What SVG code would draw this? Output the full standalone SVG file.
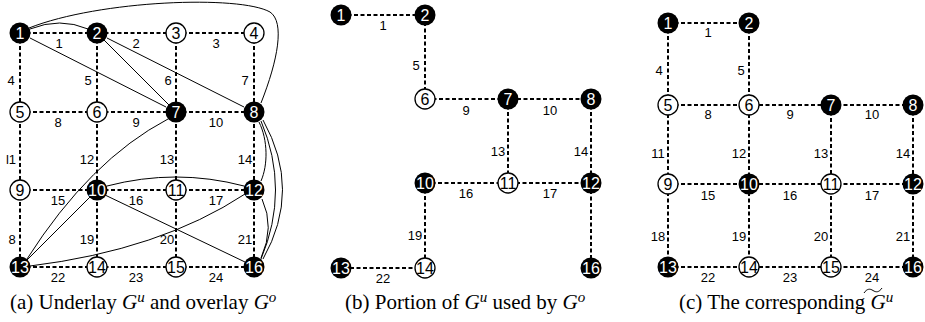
<svg xmlns="http://www.w3.org/2000/svg" width="925" height="322" viewBox="0 0 925 322">
<style>
.d{stroke:#000;stroke-width:2;stroke-dasharray:4 2.5;fill:none}
.o{stroke:#000;stroke-width:1;fill:none}
.b circle{fill:#000}
.w circle{fill:#fff;stroke:#000;stroke-width:1.3}
.b text,.w text{font-family:"Liberation Sans",Arial,sans-serif;font-size:16px;text-anchor:middle}
.b text{fill:#fff}
.w text{fill:#000}
.l{font-family:"Liberation Sans",Arial,sans-serif;font-size:13px;text-anchor:middle;fill:#000}
.cap{font-family:"Liberation Serif","Times New Roman",serif;font-size:21px;fill:#000}
.cap .i{font-style:italic}
</style>
<rect width="925" height="322" fill="#fff"/>

<!-- ===== Panel (a) ===== -->
<g id="a-edges">
<path class="d" d="M20,33H254M20,112H254M20,190H254M20,267H254M20,33V267M97,33V267M176,33V267M254,33V267"/>
<path class="o" d="M30,29 Q60,17 88,29"/>
<path class="o" d="M29,28 C100,0 240,-5 270,12 C285,22 278,60 261,103"/>
<path class="o" d="M30,38 L166,107"/>
<path class="o" d="M104,40 L169,105"/>
<path class="o" d="M107,38 L244,107"/>
<path class="o" d="M168,119 Q90,160 27,259"/>
<path class="o" d="M90,197 L27,260"/>
<path class="o" d="M107,186 Q176,168 244,186"/>
<path class="o" d="M105,195 L245,262"/>
<path class="o" d="M30,266 Q160,250 245,194"/>
<path class="o" d="M259,122 C268,140 268,165 261,181"/>
<path class="o" d="M261,121 Q290,190 261,259"/>
<path class="o" d="M263,120 Q302,190 263,259"/>
<path class="o" d="M262,199 Q275,227 261,258"/>
<text class="l" x="59" y="47.6">1</text><text class="l" x="136" y="47.6">2</text><text class="l" x="216" y="47.6">3</text>
<text class="l" x="11" y="84.6">4</text><text class="l" x="88" y="84.6">5</text><text class="l" x="168" y="84.6">6</text><text class="l" x="245" y="84.6">7</text>
<text class="l" x="58" y="126.6">8</text><text class="l" x="136" y="126.6">9</text><text class="l" x="216" y="126.6">10</text>
<text class="l" x="11" y="163.6">l1</text><text class="l" x="87" y="163.6">12</text><text class="l" x="167" y="163.6">13</text><text class="l" x="245" y="163.6">14</text>
<text class="l" x="58" y="204.6">15</text><text class="l" x="136" y="204.6">16</text><text class="l" x="216" y="204.6">17</text>
<text class="l" x="12" y="243.6">8</text><text class="l" x="87" y="243.6">19</text><text class="l" x="167" y="243.6">20</text><text class="l" x="245" y="243.6">21</text>
<text class="l" x="58" y="281.6">22</text><text class="l" x="136" y="281.6">23</text><text class="l" x="216" y="281.6">24</text>
</g>
<g id="a-n1" class="b"><circle cx="20" cy="33" r="10.5"/><text x="20" y="38.7">1</text></g>
<g id="a-n2" class="b"><circle cx="97" cy="33" r="10.5"/><text x="97" y="38.7">2</text></g>
<g id="a-n3" class="w"><circle cx="176" cy="33" r="10"/><text x="176" y="38.7">3</text></g>
<g id="a-n4" class="w"><circle cx="254" cy="33" r="10"/><text x="254" y="38.7">4</text></g>
<g id="a-n5" class="w"><circle cx="20" cy="112" r="10"/><text x="20" y="117.7">5</text></g>
<g id="a-n6" class="w"><circle cx="97" cy="112" r="10"/><text x="97" y="117.7">6</text></g>
<g id="a-n7" class="b"><circle cx="176" cy="112" r="10.5"/><text x="176" y="117.7">7</text></g>
<g id="a-n8" class="b"><circle cx="254" cy="112" r="10.5"/><text x="254" y="117.7">8</text></g>
<g id="a-n9" class="w"><circle cx="20" cy="190" r="10"/><text x="20" y="195.7">9</text></g>
<g id="a-n10" class="b"><circle cx="97" cy="190" r="10.5"/><text x="97" y="195.7">10</text></g>
<g id="a-n11" class="w"><circle cx="176" cy="190" r="10"/><text x="176" y="195.7">11</text></g>
<g id="a-n12" class="b"><circle cx="254" cy="190" r="10.5"/><text x="254" y="195.7">12</text></g>
<g id="a-n13" class="b"><circle cx="20" cy="267" r="10.5"/><text x="20" y="272.7">13</text></g>
<g id="a-n14" class="w"><circle cx="97" cy="267" r="10"/><text x="97" y="272.7">14</text></g>
<g id="a-n15" class="w"><circle cx="176" cy="267" r="10"/><text x="176" y="272.7">15</text></g>
<g id="a-n16" class="b"><circle cx="254" cy="267" r="10.5"/><text x="254" y="272.7">16</text></g>
<text class="cap" x="10" y="309">(a) Underlay <tspan class="i">G</tspan><tspan class="i" font-size="15" dy="-7">u</tspan><tspan dy="7"> and overlay </tspan><tspan class="i">G</tspan><tspan class="i" font-size="15" dy="-7">o</tspan></text>

<!-- ===== Panel (b) ===== -->
<g id="b-edges">
<path class="d" d="M341,15H425V99H591M508,99V183M591,99V268M425,183H591M425,183V268H341"/>
<text class="l" x="383" y="29.6">1</text>
<text class="l" x="416" y="69.6">5</text>
<text class="l" x="466" y="114.6">9</text>
<text class="l" x="550" y="114.6">10</text>
<text class="l" x="498" y="155.6">13</text>
<text class="l" x="581" y="155.6">14</text>
<text class="l" x="466" y="197.6">16</text>
<text class="l" x="550" y="197.6">17</text>
<text class="l" x="415" y="239.6">19</text>
<text class="l" x="383" y="282.6">22</text>
</g>
<g id="b-n1" class="b"><circle cx="341" cy="15" r="10.5"/><text x="341" y="20.7">1</text></g>
<g id="b-n2" class="b"><circle cx="425" cy="15" r="10.5"/><text x="425" y="20.7">2</text></g>
<g id="b-n6" class="w"><circle cx="425" cy="99" r="10"/><text x="425" y="104.7">6</text></g>
<g id="b-n7" class="b"><circle cx="508" cy="99" r="10.5"/><text x="508" y="104.7">7</text></g>
<g id="b-n8" class="b"><circle cx="591" cy="99" r="10.5"/><text x="591" y="104.7">8</text></g>
<g id="b-n10" class="b"><circle cx="425" cy="183" r="10.5"/><text x="425" y="188.7">10</text></g>
<g id="b-n11" class="w"><circle cx="508" cy="183" r="10"/><text x="508" y="188.7">11</text></g>
<g id="b-n12" class="b"><circle cx="591" cy="183" r="10.5"/><text x="591" y="188.7">12</text></g>
<g id="b-n13" class="b"><circle cx="341" cy="268" r="10.5"/><text x="341" y="273.7">13</text></g>
<g id="b-n14" class="w"><circle cx="425" cy="268" r="10"/><text x="425" y="273.7">14</text></g>
<g id="b-n16" class="b"><circle cx="591" cy="268" r="10.5"/><text x="591" y="273.7">16</text></g>
<text class="cap" x="345" y="309">(b) Portion of <tspan class="i">G</tspan><tspan class="i" font-size="15" dy="-7">u</tspan><tspan dy="7"> used by </tspan><tspan class="i">G</tspan><tspan class="i" font-size="15" dy="-7">o</tspan></text>

<!-- ===== Panel (c) ===== -->
<g id="c-edges">
<path class="d" d="M668,23H749M668,105H913M668,184H913M668,267H913M668,23V267M749,23V267M831,105V267M913,105V267"/>
<text class="l" x="708" y="36.6">1</text>
<text class="l" x="659" y="74.6">4</text><text class="l" x="741" y="74.6">5</text>
<text class="l" x="708" y="118.6">8</text><text class="l" x="790" y="118.6">9</text><text class="l" x="872" y="118.6">10</text>
<text class="l" x="658" y="157.6">11</text><text class="l" x="739" y="157.6">12</text><text class="l" x="821" y="157.6">13</text><text class="l" x="903" y="157.6">14</text>
<text class="l" x="708" y="199.6">15</text><text class="l" x="790" y="199.6">16</text><text class="l" x="872" y="199.6">17</text>
<text class="l" x="658" y="240.6">18</text><text class="l" x="739" y="240.6">19</text><text class="l" x="821" y="240.6">20</text><text class="l" x="903" y="240.6">21</text>
<text class="l" x="708" y="281.6">22</text><text class="l" x="790" y="281.6">23</text><text class="l" x="872" y="281.6">24</text>
</g>
<g id="c-n1" class="b"><circle cx="668" cy="23" r="10.5"/><text x="668" y="28.7">1</text></g>
<g id="c-n2" class="b"><circle cx="749" cy="23" r="10.5"/><text x="749" y="28.7">2</text></g>
<g id="c-n5" class="w"><circle cx="668" cy="105" r="10"/><text x="668" y="110.7">5</text></g>
<g id="c-n6" class="w"><circle cx="749" cy="105" r="10"/><text x="749" y="110.7">6</text></g>
<g id="c-n7" class="b"><circle cx="831" cy="105" r="10.5"/><text x="831" y="110.7">7</text></g>
<g id="c-n8" class="b"><circle cx="913" cy="105" r="10.5"/><text x="913" y="110.7">8</text></g>
<g id="c-n9" class="w"><circle cx="668" cy="184" r="10"/><text x="668" y="189.7">9</text></g>
<g id="c-n10" class="b"><circle cx="749" cy="184" r="10.5"/><text x="749" y="189.7">10</text></g>
<g id="c-n11" class="w"><circle cx="831" cy="184" r="10"/><text x="831" y="189.7">11</text></g>
<g id="c-n12" class="b"><circle cx="913" cy="184" r="10.5"/><text x="913" y="189.7">12</text></g>
<g id="c-n13" class="b"><circle cx="668" cy="267" r="10.5"/><text x="668" y="272.7">13</text></g>
<g id="c-n14" class="w"><circle cx="749" cy="267" r="10"/><text x="749" y="272.7">14</text></g>
<g id="c-n15" class="w"><circle cx="831" cy="267" r="10"/><text x="831" y="272.7">15</text></g>
<g id="c-n16" class="b"><circle cx="913" cy="267" r="10.5"/><text x="913" y="272.7">16</text></g>
<text class="cap" x="679" y="309">(c) The corresponding <tspan class="i">G</tspan><tspan class="i" font-size="15" dy="-7">u</tspan></text>
<path class="o" d="M864,293 C867,288.5 870,288.5 873,290.5 C876,292.5 879,292.5 882,288"/>
</svg>
